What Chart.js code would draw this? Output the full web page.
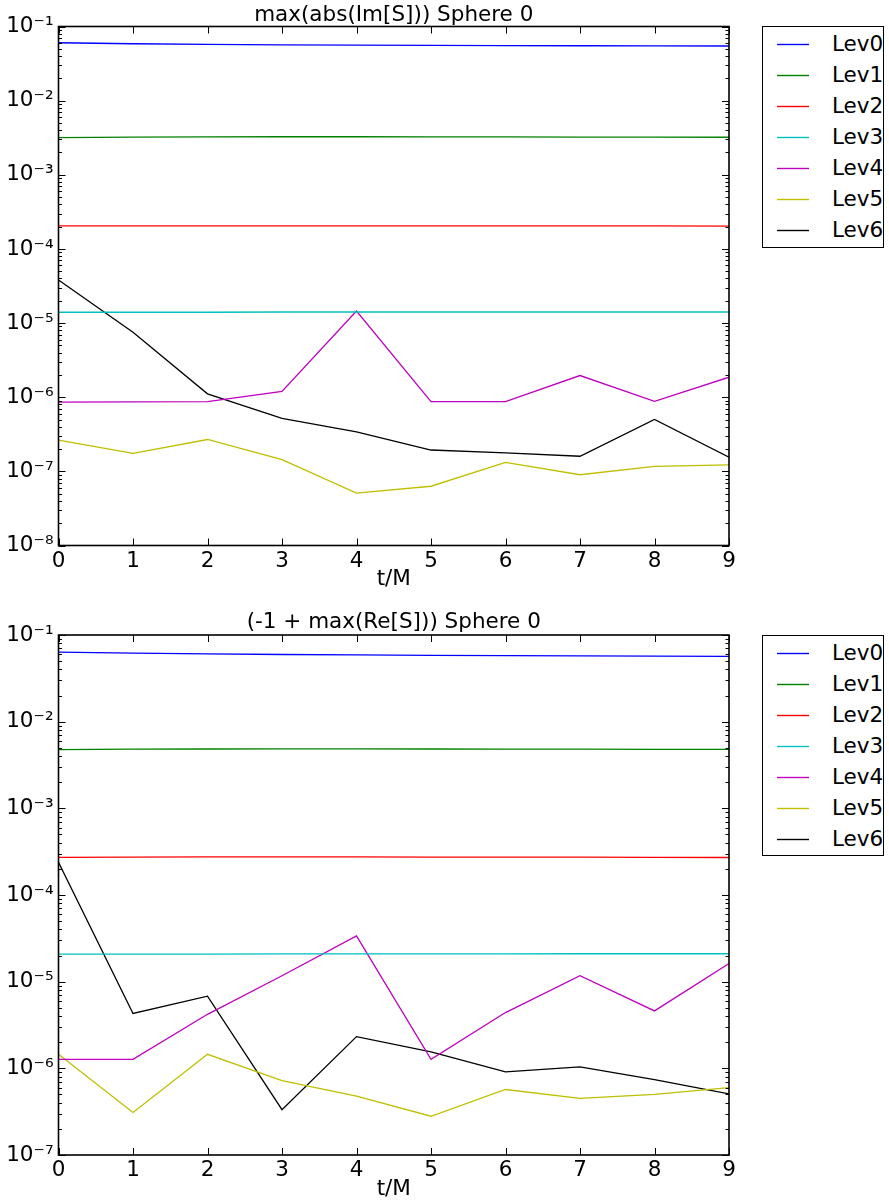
<!DOCTYPE html>
<html>
<head>
<meta charset="utf-8">
<script src="https://cdn.jsdelivr.net/npm/chart.js@4.4.1/dist/chart.umd.min.js"></script>
<style>
  html, body { margin: 0; padding: 0; background: #fff; }
  body { width: 889px; height: 1202px; position: relative; overflow: hidden; font-family: "DejaVu Sans", sans-serif; }
  .wrap { position: absolute; left: 0; width: 889px; }
  .legend { position: absolute; border: 1px solid #000; background: #fff; box-sizing: border-box; }
  .row { position: absolute; left: 0; height: 26px; width: 100%; }
  .row svg { position: absolute; left: 14px; top: 12px; }
  .row .tx { position: absolute; left: 69px; top: 0; font-size: 21.5px; line-height: 26px; color: #000; }
</style>
</head>
<body>
<div class="wrap" style="top:0;height:600px"><canvas id="c1" width="889" height="600"></canvas></div>
<div class="wrap" style="top:600px;height:602px"><canvas id="c2" width="889" height="602"></canvas></div>
<div id="leg1" class="legend" style="left:762px;top:26px;width:122px;height:222px"></div>
<div id="leg2" class="legend" style="left:762px;top:635px;width:122px;height:221px"></div>
<script>
// ---- data ----
const tValues = [0, 1, 2, 3, 4, 5, 6, 7, 8, 9];
const seriesNames = ["Lev0", "Lev1", "Lev2", "Lev3", "Lev4", "Lev5", "Lev6"];
const seriesColors = ["#0000ff", "#008000", "#ff0000", "#00bfbf", "#bf00bf", "#bfbf00", "#000000"];
const yDecades = [1e-8, 1e-7, 1e-6, 1e-5, 1e-4, 1e-3, 1e-2, 1e-1];

const titleTop = "max(abs(Im[S])) Sphere 0";
const titleBottom = "(-1 + max(Re[S])) Sphere 0";

// max(abs(Im[S]))
const imLev0 = [0.0604, 0.0585, 0.0574, 0.0566, 0.0560, 0.0556, 0.0553, 0.0550, 0.0548, 0.0546];
const imLev1 = [0.00318, 0.00322, 0.00325, 0.00326, 0.00326, 0.00325, 0.00324, 0.00323, 0.00322, 0.00321];
const imLev2 = [2.04e-4, 2.05e-4, 2.05e-4, 2.05e-4, 2.05e-4, 2.05e-4, 2.04e-4, 2.04e-4, 2.04e-4, 2.03e-4];
const imLev3 = [1.40e-5, 1.40e-5, 1.40e-5, 1.41e-5, 1.41e-5, 1.41e-5, 1.41e-5, 1.41e-5, 1.41e-5, 1.41e-5];
const imLev4 = [8.6e-7, 8.65e-7, 8.7e-7, 1.2e-6, 1.45e-5, 8.7e-7, 8.7e-7, 1.96e-6, 8.8e-7, 1.86e-6];
const imLev5 = [2.63e-7, 1.75e-7, 2.69e-7, 1.44e-7, 5.1e-8, 6.3e-8, 1.32e-7, 9.0e-8, 1.17e-7, 1.22e-7];
const imLev6 = [3.8e-5, 7.5e-6, 1.11e-6, 5.2e-7, 3.4e-7, 1.94e-7, 1.78e-7, 1.6e-7, 5.0e-7, 1.55e-7];

// -1 + max(Re[S])
const reLev0 = [0.0636, 0.0617, 0.0605, 0.0596, 0.0589, 0.0583, 0.0578, 0.0574, 0.0571, 0.0568];
const reLev1 = [0.00475, 0.00481, 0.00484, 0.00485, 0.00485, 0.00484, 0.00483, 0.00481, 0.00480, 0.00478];
const reLev2 = [2.72e-4, 2.74e-4, 2.75e-4, 2.75e-4, 2.75e-4, 2.74e-4, 2.74e-4, 2.73e-4, 2.72e-4, 2.71e-4];
const reLev3 = [2.08e-5, 2.08e-5, 2.08e-5, 2.09e-5, 2.09e-5, 2.09e-5, 2.09e-5, 2.10e-5, 2.10e-5, 2.10e-5];
const reLev4 = [1.27e-6, 1.27e-6, 4.2e-6, 1.17e-5, 3.37e-5, 1.27e-6, 4.4e-6, 1.17e-5, 4.6e-6, 1.62e-5];
const reLev5 = [1.45e-6, 3.1e-7, 1.45e-6, 7.2e-7, 4.77e-7, 2.8e-7, 5.7e-7, 4.5e-7, 5.0e-7, 6.0e-7];
const reLev6 = [2.38e-4, 4.3e-6, 6.8e-6, 3.34e-7, 2.32e-6, 1.55e-6, 9.1e-7, 1.04e-6, 7.4e-7, 5.06e-7];

const imSeries = [imLev0, imLev1, imLev2, imLev3, imLev4, imLev5, imLev6];
const reSeries = [reLev0, reLev1, reLev2, reLev3, reLev4, reLev5, reLev6];

// ---- helpers ----
const FONT = '"DejaVu Sans", sans-serif';
const FS = 21.5;
const SUP = {"-": "\u207B", "0": "\u2070", "1": "\u00B9", "2": "\u00B2", "3": "\u00B3", "4": "\u2074", "5": "\u2075", "6": "\u2076", "7": "\u2077", "8": "\u2078", "9": "\u2079"};
function supLabel(v) {
  const e = Math.round(Math.log10(v));
  return "10" + String(e).split("").map(c => SUP[c]).join("");
}

const mplPlugin = {
  id: "mplFrame",
  afterDraw(chart, args, opts) {
    const ctx = chart.ctx;
    const a = chart.chartArea;
    const xs = chart.scales.x, ys = chart.scales.y;
    ctx.save();
    ctx.strokeStyle = "#000";
    ctx.lineWidth = 1;
    ctx.beginPath();
    tValues.forEach(t => {
      const px = Math.round(xs.getPixelForValue(t)) + 0.5;
      ctx.moveTo(px, a.bottom); ctx.lineTo(px, a.bottom - 7);
      ctx.moveTo(px, a.top); ctx.lineTo(px, a.top + 7);
    });
    const lo = Math.round(Math.log10(ys.min)), hi = Math.round(Math.log10(ys.max));
    for (let e = lo; e <= hi; e++) {
      for (let m = 1; m <= 9; m++) {
        const v = m * Math.pow(10, e);
        if (v > ys.max * 1.0001) break;
        const py = Math.round(ys.getPixelForValue(v)) + 0.5;
        const len = m === 1 ? 7 : 3.5;
        ctx.moveTo(a.left, py); ctx.lineTo(a.left + len, py);
        ctx.moveTo(a.right, py); ctx.lineTo(a.right - len, py);
      }
    }
    ctx.stroke();
    ctx.lineWidth = 1.6;
    ctx.strokeRect(a.left, a.top, a.right - a.left, a.bottom - a.top);
    ctx.fillStyle = "#000";
    ctx.font = FS + "px " + FONT;
    ctx.textAlign = "center";
    ctx.textBaseline = "alphabetic";
    ctx.fillText(opts.text, (a.left + a.right) / 2, a.top - opts.gap);
    ctx.restore();
  }
};

function makeChart(canvasId, seriesList, yMin, yMax, padTop, padBottom, title, gap) {
  const datasets = seriesList.map((vals, i) => ({
    label: seriesNames[i],
    data: tValues.map((t, j) => ({x: t, y: vals[j]})),
    borderColor: seriesColors[i],
    backgroundColor: seriesColors[i],
    borderWidth: 1.3,
    pointRadius: 0,
    tension: 0,
    fill: false
  }));
  return new Chart(document.getElementById(canvasId), {
    type: "line",
    data: { datasets },
    options: {
      responsive: false,
      animation: false,
      events: [],
      layout: { padding: { left: 0, right: 160, top: padTop, bottom: padBottom } },
      plugins: {
        legend: { display: false },
        title: { display: false },
        tooltip: { enabled: false },
        mplFrame: { text: title, gap: gap }
      },
      scales: {
        x: {
          type: "linear", min: 0, max: 9,
          afterBuildTicks: s => { s.ticks = tValues.map(v => ({value: v})); },
          ticks: { color: "#000", font: { size: FS, family: FONT }, padding: 3, maxRotation: 0, autoSkip: false },
          grid: { display: false, drawTicks: false },
          border: { display: false },
          title: { display: true, text: "t/M", color: "#000", font: { size: FS, family: FONT }, padding: { top: 0, bottom: 0 } },
          afterFit: s => { s.height = 47; }
        },
        y: {
          type: "logarithmic", min: yMin, max: yMax,
          afterBuildTicks: s => { s.ticks = yDecades.filter(v => v >= yMin * 0.999 && v <= yMax * 1.001).map(v => ({value: v})); },
          ticks: { color: "#000", font: { size: FS, family: FONT }, padding: 5, autoSkip: false, callback: v => supLabel(v) },
          grid: { display: false, drawTicks: false },
          border: { display: false },
          afterFit: s => { s.width = 58.5; }
        }
      }
    },
    plugins: [mplPlugin]
  });
}

makeChart("c1", imSeries, 1e-8, 1e-1, 26.5, 7.5, titleTop, 6);
makeChart("c2", reSeries, 1e-7, 1e-1, 35, 0, titleBottom, 7);

function buildLegend(id) {
  const el = document.getElementById(id);
  seriesNames.forEach((n, i) => {
    const r = document.createElement("div");
    r.className = "row";
    r.style.top = (4 + 31 * i) + "px";
    r.innerHTML = '<svg width="34" height="4"><line x1="0" y1="1.5" x2="32" y2="1.5" stroke="' + seriesColors[i] + '" stroke-width="1.4"/></svg><div class="tx">' + n + '</div>';
    el.appendChild(r);
  });
}
buildLegend("leg1");
buildLegend("leg2");
</script>
</body>
</html>
